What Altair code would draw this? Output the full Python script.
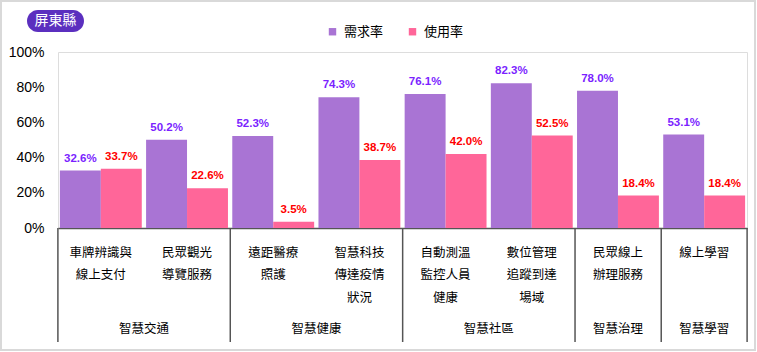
import altair as alt
import pandas as pd

categories = ["車牌辨識與|線上支付", "民眾觀光|導覽服務", "遠距醫療|照護", "智慧科技|傳達疫情|狀況",
              "自動測溫|監控人員|健康", "數位管理|追蹤到達|場域", "民眾線上|辦理服務", "線上學習"]
groups = ["智慧交通", "智慧交通", "智慧健康", "智慧健康", "智慧社區", "智慧社區", "智慧治理", "智慧學習"]
series_names = ["需求率", "使用率"]
demand = [32.6, 50.2, 52.3, 74.3, 76.1, 82.3, 78.0, 53.1]
usage = [33.7, 22.6, 3.5, 38.7, 42.0, 52.5, 18.4, 18.4]
y_ticks = [0, 20, 40, 60, 80, 100]
badge_text = "屏東縣"

PURPLE = "#a974d4"
PINK = "#ff6699"
LBL_PURPLE = "#7b1fff"
LBL_RED = "#ff0000"
CJK = "Noto Sans CJK TC"
W, H = 689, 176

rows = []
for c, g, d, u in zip(categories, groups, demand, usage):
    rows.append({"cat": c, "group": g, "series": series_names[0], "value": d})
    rows.append({"cat": c, "group": g, "series": series_names[1], "value": u})
df = pd.DataFrame(rows)

# group structure derived from the lists
grp_first = []
grp_rows = []
for i, g in enumerate(groups):
    if i == 0 or groups[i - 1] != g:
        grp_first.append({"cat": categories[i]})
        n = groups.count(g)
        if n == 2:
            grp_rows.append({"cat": categories[i + 1], "group": g, "kind": "two"})
        else:
            grp_rows.append({"cat": categories[i], "group": g, "kind": "one"})
df_first = pd.DataFrame(grp_first)
df_last = pd.DataFrame([{"cat": categories[-1]}])
df_g2 = pd.DataFrame([r for r in grp_rows if r["kind"] == "two"])
df_g1 = pd.DataFrame([r for r in grp_rows if r["kind"] == "one"])

x_scale = alt.Scale(domain=categories, paddingInner=0.05, paddingOuter=0.022)
x_axis = alt.Axis(title=None, labelAngle=0, ticks=False, domainColor="#555555",
                  domainWidth=1.5,
                  labelExpr="split(datum.label, '|')", labelFont=CJK,
                  labelFontSize=12.5, labelLineHeight=22.5, labelColor="#000000",
                  labelPadding=18, labelBaseline="top")
y_scale = alt.Scale(domain=[0, 100])
y_axis = alt.Axis(title=None, values=y_ticks, grid=False, domain=False, ticks=False,
                  labelOverlap=False, labelFlush=False,
                  labelExpr="datum.value + '%'", labelFont="Liberation Sans",
                  labelFontSize=14, labelColor="#000000", labelPadding=14)
x_enc = alt.X("cat:N", scale=x_scale, sort=categories, axis=x_axis)
y_enc = alt.Y("value:Q", scale=y_scale, axis=y_axis)
xo = alt.XOffset("series:N", sort=series_names, scale=alt.Scale(domain=series_names, paddingInner=0))

base = alt.Chart(df)
bars = base.mark_bar().encode(
    x=x_enc, xOffset=xo, y=y_enc,
    color=alt.Color("series:N", sort=series_names,
                    scale=alt.Scale(domain=series_names, range=[PURPLE, PINK]),
                    legend=alt.Legend(title=None, orient="none", legendX=268, legendY=-27,
                                      direction="horizontal", symbolType="square", symbolSize=55,
                                      symbolStrokeWidth=0, labelFont=CJK, labelFontSize=13,
                                      labelColor="#000000", labelOffset=5, columnPadding=22, padding=0)),
)
labels = base.mark_text(baseline="bottom", dy=-7, fontSize=11.5, fontWeight="bold",
                        font="Liberation Sans").transform_calculate(
    txt="format(datum.value, '.1f') + '%'"
).encode(
    x=x_enc, xOffset=xo, y=y_enc,
    text="txt:N",
    color=alt.condition(alt.datum.series == series_names[0], alt.value(LBL_PURPLE), alt.value(LBL_RED)),
)

sep = alt.Chart(df_first).mark_rule(color="#555555", strokeWidth=1.5, xOffset=-2).encode(
    x=alt.X("cat:N", scale=x_scale, sort=categories, bandPosition=0, axis=x_axis),
    y=alt.value(H), y2=alt.value(H + 114))
sep_end = alt.Chart(df_last).mark_rule(color="#555555", strokeWidth=1.5, xOffset=2).encode(
    x=alt.X("cat:N", scale=x_scale, sort=categories, bandPosition=1, axis=x_axis),
    y=alt.value(H), y2=alt.value(H + 114))
g2 = alt.Chart(df_g2).mark_text(font=CJK, fontSize=12.5, color="#000000", baseline="middle", xOffset=-2).encode(
    x=alt.X("cat:N", scale=x_scale, sort=categories, bandPosition=0, axis=x_axis),
    y=alt.value(H + 101), text="group:N")
g1 = alt.Chart(df_g1).mark_text(font=CJK, fontSize=12.5, color="#000000", baseline="middle").encode(
    x=alt.X("cat:N", scale=x_scale, sort=categories, bandPosition=0.5, axis=x_axis),
    y=alt.value(H + 101), text="group:N")

one = alt.Data(values=[{"t": badge_text}])
badge = alt.Chart(one).mark_rect(color="#5b2fbf", cornerRadius=11).encode(
    x=alt.value(-31), x2=alt.value(26), y=alt.value(-42), y2=alt.value(-20))
badge_txt = alt.Chart(one).mark_text(font=CJK, fontSize=14, color="#ffffff", baseline="middle").encode(
    x=alt.value(-2.5), y=alt.value(-31), text="t:N")
border = alt.Chart(alt.Data(values=[{"b": 1}])).mark_rect(fill=None, stroke="#d9d9d9", strokeWidth=2).encode(
    x=alt.value(-57), x2=alt.value(697), y=alt.value(-51), y2=alt.value(298))

chart = alt.layer(border, bars, labels, sep, sep_end, g2, g1, badge, badge_txt).properties(
    width=W, height=H, autosize="none",
    padding={"left": 58, "top": 52, "right": 10, "bottom": 124},
).configure_view(strokeWidth=0, stroke="transparent").configure_axisY(
    labelOverlap=False, labelFlush=False
).configure(background="#ffffff")

chart.save("out.html", embed_options={"renderer": "svg", "actions": False})
